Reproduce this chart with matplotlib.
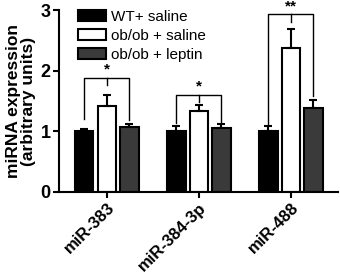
import numpy as np
import matplotlib
matplotlib.use("Agg")
import matplotlib.pyplot as plt

plt.rcParams['font.family'] = ['Liberation Sans', 'DejaVu Sans']

genes = ["miR-383", "miR-384-3p", "miR-488"]
groups = ["WT+ saline", "ob/ob + saline", "ob/ob + leptin"]
colors = ["#000000", "#ffffff", "#3a3a3a"]
means = [[1.00, 1.00, 1.00],
         [1.42, 1.33, 2.38],
         [1.07, 1.05, 1.39]]
errs = [[0.03, 0.08, 0.08],
        [0.18, 0.10, 0.30],
        [0.05, 0.07, 0.12]]
# bracket height, left leg end, right leg end, label
brackets = [(1.88, 1.20, 1.18, "*"),
            (1.60, 1.13, 1.13, "*"),
            (2.93, 1.12, 1.58, "**")]

fig = plt.figure(figsize=(3.4, 2.79), dpi=100)
ax = fig.add_axes([0.1735, 0.312, 0.82, 0.652])

x = np.arange(len(genes))
w = 0.2
off = 0.245
for k in range(3):
    ax.bar(x + (k - 1) * off, means[k], w, color=colors[k], edgecolor="black",
           linewidth=1.5, label=groups[k], zorder=2)
    ax.errorbar(x + (k - 1) * off, means[k], yerr=[np.zeros(3), errs[k]], fmt="none",
                ecolor="black", elinewidth=1.5, capsize=3, capthick=1.5, zorder=3)

for i, (h, l1, l2, s) in enumerate(brackets):
    xl, xr = x[i] - off, x[i] + off
    ax.plot([xl, xl, xr, xr], [l1, h, h, l2], color="black", lw=1.0)
    ax.plot([x[i], x[i]], [h, h - 0.12], color="black", lw=1.0)
    ax.text(x[i], h + 0.02, s, ha="center", va="bottom", fontsize=11, fontweight="bold")

ax.set_xlim(-0.52, 2.51)
ax.set_ylim(0, 3)
ax.set_yticks([0, 1, 2, 3])
ax.set_xticks(x)
ax.set_xticklabels(genes, rotation=45, ha="right", rotation_mode="anchor")
for lab in ax.get_xticklabels():
    lab.set_fontweight("bold")
    lab.set_fontsize(12)
for lab in ax.get_yticklabels():
    lab.set_fontweight("bold")
    lab.set_fontsize(13)
ax.set_ylabel("miRNA expression\n(arbitrary units)", fontsize=12.5, fontweight="bold",
              linespacing=1.0, labelpad=3)
for sp in ["top", "right"]:
    ax.spines[sp].set_visible(False)
for sp in ["left", "bottom"]:
    ax.spines[sp].set_linewidth(1.5)
ax.tick_params(width=1.5, length=4, pad=2)

ax.legend(loc="upper left", bbox_to_anchor=(0.045, 1.035), frameon=False, fontsize=11,
          handlelength=1.85, handleheight=0.7, labelspacing=0.32, handletextpad=0.35,
          borderaxespad=0)

fig.savefig("out.png", dpi=100)
